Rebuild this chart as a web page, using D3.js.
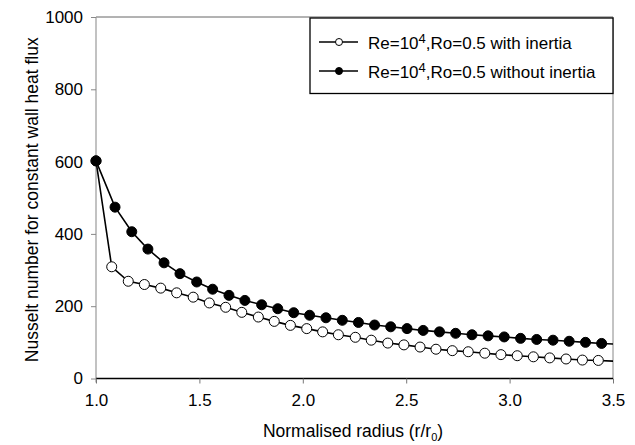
<!DOCTYPE html>
<html>
<head>
<meta charset="utf-8">
<script src="https://cdn.jsdelivr.net/npm/d3@7"></script>
<style>
  body { margin: 0; background: #fff; }
  svg { font-family: "Liberation Sans", Arial, sans-serif; }
</style>
</head>
<body>
<div id="chart"></div>
<script>
// Chart size
const width = 635;
const height = 445;

// Plot area
const plotLeft = 96, plotRight = 613, plotTop = 17, plotBottom = 378.5;

// Series: with inertia (open markers)
const xWith = [1.000, 1.076, 1.156, 1.234, 1.313, 1.390, 1.470, 1.548, 1.627, 1.705, 1.785,
  1.862, 1.940, 2.019, 2.096, 2.172, 2.254, 2.331, 2.411, 2.489, 2.567, 2.644, 2.723,
  2.800, 2.880, 2.958, 3.037, 3.115, 3.194, 3.273, 3.352, 3.429, 3.507];
const nuWith = [602, 309, 269, 260, 250, 237, 225, 209, 197, 183, 170,
  158, 147, 138, 129, 121, 114, 106, 98, 93, 87, 81, 77,
  74, 70, 66, 63, 60, 57, 54, 51, 50, 48];

// Series: without inertia (filled markers)
const xWithout = [1.000, 1.092, 1.173, 1.251, 1.329, 1.406, 1.487, 1.564, 1.643, 1.720, 1.801,
  1.879, 1.956, 2.033, 2.112, 2.191, 2.269, 2.347, 2.425, 2.504, 2.582, 2.661, 2.739,
  2.818, 2.896, 2.974, 3.053, 3.131, 3.210, 3.288, 3.367, 3.445, 3.523];
const nuWithout = [602, 474, 406, 358, 320, 290, 267, 247, 230, 216, 204,
  193, 182, 175, 168, 161, 155, 148, 143, 138, 133, 129, 125,
  121, 118, 115, 111, 108, 106, 103, 100, 97, 95];

// Ticks
const xTicks = [1.0, 1.5, 2.0, 2.5, 3.0, 3.5];
const yTicks = [0, 200, 400, 600, 800, 1000];

const series = [
  { name: "with inertia", xs: xWith, ys: nuWith, fill: "#fff" },
  { name: "without inertia", xs: xWithout, ys: nuWithout, fill: "#000" }
];

const x = d3.scaleLinear().domain([1, 3.5]).range([plotLeft, plotRight]);
const y = d3.scaleLinear().domain([0, 1000]).range([plotBottom, plotTop]);

const svg = d3.select("#chart")
  .append("svg")
  .attr("width", width)
  .attr("height", height);

svg.append("rect").attr("width", width).attr("height", height).attr("fill", "#fff");

svg.append("clipPath").attr("id", "plot-clip")
  .append("rect")
  .attr("x", plotLeft).attr("y", plotTop)
  .attr("width", plotRight - plotLeft).attr("height", plotBottom - plotTop);

// Frame: top and right edges
svg.append("line")
  .attr("x1", plotLeft).attr("x2", plotRight).attr("y1", plotTop).attr("y2", plotTop)
  .attr("stroke", "#666").attr("stroke-width", 1);
svg.append("line")
  .attr("x1", plotRight).attr("x2", plotRight).attr("y1", plotTop).attr("y2", plotBottom)
  .attr("stroke", "#888").attr("stroke-width", 1);

// Y axis
const yAxis = svg.append("g")
  .attr("transform", `translate(${plotLeft},0)`)
  .call(d3.axisLeft(y).tickValues(yTicks).tickFormat(d3.format("d")).tickSize(5).tickPadding(8));
yAxis.select(".domain").attr("stroke", "#999").attr("stroke-width", 1.2)
  .attr("d", `M0,${plotTop}V${plotBottom + 4}`);
yAxis.selectAll(".tick line").attr("stroke", "#888");
yAxis.selectAll(".tick text").attr("font-size", 17).attr("fill", "#000");
yAxis.attr("font-family", null).attr("font-size", null);

// X axis
const xAxis = svg.append("g")
  .attr("transform", `translate(0,${plotBottom})`)
  .call(d3.axisBottom(x).tickValues(xTicks).tickFormat(d3.format(".1f")).tickSize(5).tickPadding(10));
xAxis.select(".domain").attr("stroke", "#000").attr("stroke-width", 1.6)
  .attr("d", `M${plotLeft},0H${plotRight}`);
xAxis.selectAll(".tick line").attr("stroke", "#777");
xAxis.selectAll(".tick text").attr("font-size", 17).attr("fill", "#000");
xAxis.attr("font-family", null).attr("font-size", null);

// Axis titles
svg.append("text")
  .attr("transform", `translate(38,${(plotTop + plotBottom) / 2 + 2}) rotate(-90)`)
  .attr("text-anchor", "middle")
  .attr("font-size", 17.5)
  .text("Nusselt number for constant wall heat flux");

const xTitle = svg.append("text")
  .attr("x", 353)
  .attr("y", 437)
  .attr("text-anchor", "middle")
  .attr("font-size", 17.5);
xTitle.append("tspan").text("Normalised radius (r/r");
xTitle.append("tspan").attr("font-size", 11).attr("dy", 4).text("0");
xTitle.append("tspan").attr("dy", -4).text(")");

// Lines and markers
const plot = svg.append("g").attr("clip-path", "url(#plot-clip)");
const line = d3.line().x(d => x(d[0])).y(d => y(d[1]));

series.forEach(s => {
  const pts = s.xs.map((v, i) => [v, s.ys[i]]);
  plot.append("path")
    .datum(pts)
    .attr("d", line)
    .attr("fill", "none")
    .attr("stroke", "#000")
    .attr("stroke-width", 1.6);
});

series.forEach(s => {
  const pts = s.xs.map((v, i) => [v, s.ys[i]]).filter(d => d[0] <= 3.5);
  svg.append("g").selectAll("circle")
    .data(pts)
    .enter().append("circle")
    .attr("cx", d => x(d[0]))
    .attr("cy", d => y(d[1]))
    .attr("r", 5)
    .attr("fill", s.fill)
    .attr("stroke", "#000")
    .attr("stroke-width", 1);
});

// Legend
const legend = svg.append("g");
legend.append("rect")
  .attr("x", 310).attr("y", 18)
  .attr("width", plotRight - 310).attr("height", 75.5)
  .attr("fill", "#fff")
  .attr("stroke", "#000")
  .attr("stroke-width", 1.3);

series.forEach((s, i) => {
  const ly = 42 + i * 29;
  legend.append("line")
    .attr("x1", 319).attr("x2", 358).attr("y1", ly).attr("y2", ly)
    .attr("stroke", "#000").attr("stroke-width", 1.6);
  legend.append("circle")
    .attr("cx", 339).attr("cy", ly).attr("r", 3.5)
    .attr("fill", s.fill).attr("stroke", "#000").attr("stroke-width", 1);
  const t = legend.append("text")
    .attr("x", 368).attr("y", ly + 7)
    .attr("font-size", 17);
  t.append("tspan").text("Re=10");
  t.append("tspan").attr("font-size", 13).attr("dy", -6).text("4");
  t.append("tspan").attr("dy", 6).text(",Ro=0.5 " + s.name);
});
</script>
</body>
</html>
